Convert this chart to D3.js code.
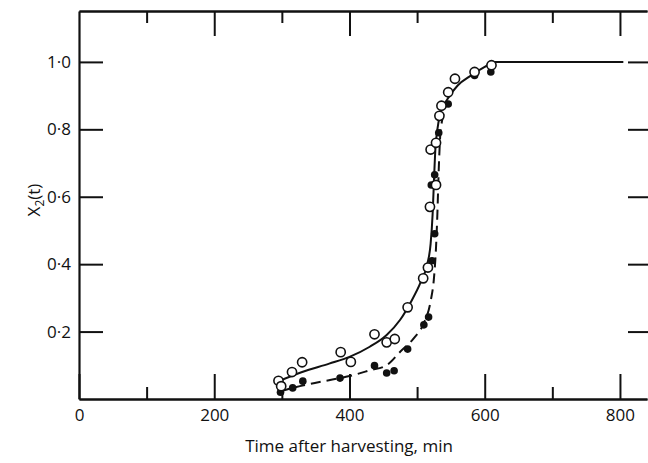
<!DOCTYPE html>
<meta charset="utf-8">
<style>
  body { margin: 0; background: #fff; }
  text { font-family: "Open Sans", "DejaVu Sans", sans-serif; fill: #111; }
</style>
<script src="https://d3js.org/d3.v7.min.js"></script>
<div id="chart"></div>
<script>

// tick labels
var xMajor = [0, 200, 400, 600, 800];
var xMinor = [100, 300, 500, 700];
var yTicks = [0.2, 0.4, 0.6, 0.8, 1.0];

// open circles (t in min, X2)
var openT = [295, 299, 315, 330, 387, 402, 437, 455, 467, 486, 509, 516, 519, 528, 520, 528, 533, 536, 546, 556, 585, 610];
var openV = [0.054, 0.038, 0.080, 0.109, 0.139, 0.110, 0.192, 0.168, 0.178, 0.272, 0.358, 0.390, 0.57, 0.635, 0.74, 0.76, 0.84, 0.87, 0.91, 0.95, 0.97, 0.99];

// filled circles
var fillT = [298, 316, 331, 386, 437, 455, 466, 486, 510, 517, 522, 526, 521, 526, 532, 546, 585, 609];
var fillV = [0.02, 0.033, 0.053, 0.062, 0.099, 0.077, 0.084, 0.148, 0.22, 0.243, 0.41, 0.49, 0.635, 0.665, 0.79, 0.875, 0.96, 0.97];

// fitted curves
var solidT = [292, 330, 370, 400, 430, 455, 475, 490, 505, 515, 520, 523, 525, 527, 530, 535, 545, 560, 580, 600, 615, 805];
var solidV = [0.05, 0.08, 0.105, 0.125, 0.155, 0.19, 0.235, 0.285, 0.345, 0.40, 0.46, 0.55, 0.65, 0.74, 0.80, 0.85, 0.89, 0.93, 0.96, 0.985, 1.0, 1.0];

var dashT = [297, 320, 360, 400, 430, 455, 475, 495, 510, 520, 525, 528, 530, 532, 535, 545];
var dashV = [0.022, 0.035, 0.052, 0.068, 0.085, 0.10, 0.14, 0.18, 0.225, 0.29, 0.36, 0.45, 0.55, 0.68, 0.80, 0.88];

var W = 648, H = 463;

var svg = d3.select("#chart").append("svg")
    .attr("width", W)
    .attr("height", H);

var x = d3.scaleLinear().domain([0, 840]).range([79, 647]);
var y = d3.scaleLinear().domain([0, 1.151]).range([399, 11]);

function dot(d) { return d3.format(".1f")(d).replace(".", "\u00b7"); }

function styleAxis(g) {
  g.selectAll("path.domain").attr("stroke", "#111").attr("stroke-width", 2.2);
  g.selectAll(".tick line").attr("stroke", "#111").attr("stroke-width", 2);
  g.selectAll("text").attr("font-size", 17).attr("fill", "#111");
}

// bottom axis, ticks pointing up
svg.append("g")
  .attr("transform", "translate(0,399)")
  .call(d3.axisBottom(x).tickValues(xMajor).tickSizeInner(-25).tickSizeOuter(0).tickPadding(10).tickFormat(d3.format("d")))
  .call(styleAxis);
svg.append("g")
  .attr("transform", "translate(0,399)")
  .call(d3.axisBottom(x).tickValues(xMinor).tickSizeInner(-12).tickSizeOuter(0).tickFormat(""))
  .call(styleAxis);

// top frame, ticks pointing down
svg.append("g")
  .attr("transform", "translate(0,11)")
  .call(d3.axisTop(x).tickValues(xMajor.slice(1)).tickSizeInner(-25).tickSizeOuter(0).tickFormat(""))
  .call(styleAxis);
svg.append("g")
  .attr("transform", "translate(0,11)")
  .call(d3.axisTop(x).tickValues(xMinor).tickSizeInner(-12).tickSizeOuter(0).tickFormat(""))
  .call(styleAxis);

// left axis
svg.append("g")
  .attr("transform", "translate(79,0)")
  .call(d3.axisLeft(y).tickValues(yTicks).tickSizeInner(-24).tickSizeOuter(0).tickPadding(8).tickFormat(dot))
  .call(styleAxis);

// right frame (just past the edge)
svg.append("g")
  .attr("transform", "translate(650,0)")
  .call(d3.axisRight(y).tickValues(yTicks).tickSizeInner(-22).tickSizeOuter(0).tickFormat(""))
  .call(styleAxis);

// curves
var solid = solidT.map(function(t, i) { return [t, solidV[i]]; });
var dashed = dashT.map(function(t, i) { return [t, dashV[i]]; });

var line = d3.line()
  .x(function(d) { return x(d[0]); })
  .y(function(d) { return y(d[1]); })
  .curve(d3.curveMonotoneX);

svg.append("path")
  .datum(solid)
  .attr("d", line)
  .attr("fill", "none")
  .attr("stroke", "#111")
  .attr("stroke-width", 2);

svg.append("path")
  .datum(dashed)
  .attr("d", line)
  .attr("fill", "none")
  .attr("stroke", "#111")
  .attr("stroke-width", 2)
  .attr("stroke-dasharray", "10,6");

// points
svg.append("g").selectAll("circle")
  .data(fillT)
  .join("circle")
    .attr("cx", function(d) { return x(d); })
    .attr("cy", function(d, i) { return y(fillV[i]); })
    .attr("r", 3.8)
    .attr("fill", "#111");

svg.append("g").selectAll("circle")
  .data(openT)
  .join("circle")
    .attr("cx", function(d) { return x(d); })
    .attr("cy", function(d, i) { return y(openV[i]); })
    .attr("r", 4.6)
    .attr("fill", "#fff")
    .attr("stroke", "#111")
    .attr("stroke-width", 1.6);

// axis titles
svg.append("text")
  .attr("x", 349)
  .attr("y", 452)
  .attr("text-anchor", "middle")
  .attr("font-size", 17)
  .text("Time after harvesting, min");

var yl = svg.append("text")
  .attr("transform", "translate(40,200) rotate(-90)")
  .attr("text-anchor", "middle")
  .attr("font-size", 17);
yl.append("tspan").text("X");
yl.append("tspan").attr("font-size", 12).attr("dy", 4).text("2");
yl.append("tspan").attr("dy", -4).text("(t)");

</script>
